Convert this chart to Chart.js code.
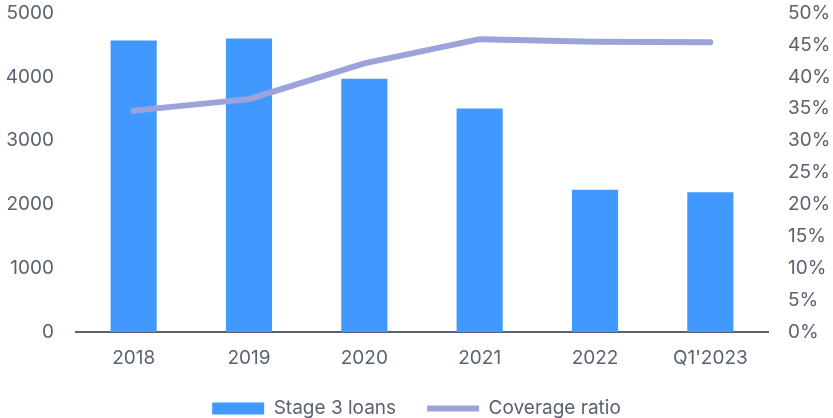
<!DOCTYPE html>
<html lang="en">
<head>
    <meta charset="UTF-8">
    <title>Stage 3 loans and coverage ratio</title>
    <style>
        body {
            margin: 0;
            padding: 0;
            background: #ffffff;
            overflow: hidden;
        }
        canvas {
            display: block;
        }
    </style>
</head>
<body>
    <canvas id="loans-chart" width="833" height="418"></canvas>

    <script src="https://cdn.jsdelivr.net/npm/chart.js"></script>
    <script>
        // chart data
        const periods = ['2018', '2019', '2020', '2021', '2022', "Q1'2023"];
        const stage3Loans = [4570, 4600, 3970, 3505, 2230, 2190];
        const coverageRatio = [34.7, 36.5, 42.1, 45.9, 45.5, 45.4];
        const leftTicks = [0, 1000, 2000, 3000, 4000, 5000];
        const rightTicks = [0, 5, 10, 15, 20, 25, 30, 35, 40, 45, 50];

        const textColor = '#5a6272';
        const font = { family: 'Inter', size: 19 };

        // fix the side axes so the plot area sits where it does in the original
        function sideAxisFit(width) {
            return (axis) => {
                axis.width = width;
                axis.paddingTop = 13;
                axis.paddingBottom = 0;
            };
        }

        const ctx = document.getElementById('loans-chart').getContext('2d');
        new Chart(ctx, {
            type: 'bar',
            data: {
                labels: periods,
                datasets: [{
                    label: 'Stage 3 loans',
                    data: stage3Loans,
                    backgroundColor: '#4199ff',
                    borderWidth: 0,
                    barPercentage: 0.4,
                    categoryPercentage: 1.0,
                    yAxisID: 'y',
                    order: 2
                }, {
                    type: 'line',
                    label: 'Coverage ratio',
                    data: coverageRatio,
                    borderColor: '#9ca3db',
                    backgroundColor: '#9ca3db',
                    borderWidth: 6,
                    borderCapStyle: 'round',
                    borderJoinStyle: 'round',
                    pointRadius: 0,
                    tension: 0,
                    yAxisID: 'y1',
                    order: 1
                }]
            },
            options: {
                responsive: false,
                animation: false,
                layout: {
                    padding: { top: 0, left: 0, right: 0, bottom: -10 }
                },
                plugins: {
                    tooltip: { enabled: false },
                    legend: {
                        position: 'bottom',
                        labels: {
                            color: textColor,
                            font: font,
                            usePointStyle: true,
                            pointStyleWidth: 52,
                            boxHeight: 12,
                            padding: 31,
                            sort: (a, b) => a.datasetIndex - b.datasetIndex,
                            generateLabels: (chart) => {
                                const items = Chart.defaults.plugins.legend.labels.generateLabels(chart);
                                items.forEach(item => {
                                    item.pointStyle = item.datasetIndex === 0 ? 'rect' : 'line';
                                });
                                return items;
                            }
                        }
                    }
                },
                scales: {
                    x: {
                        offset: true,
                        afterFit: (axis) => {
                            axis.height = 36;
                        },
                        grid: { display: false, drawTicks: false },
                        border: { display: true, color: '#5a6272', width: 2 },
                        ticks: { color: textColor, font: font, padding: 15 }
                    },
                    y: {
                        position: 'left',
                        min: 0,
                        max: 5000,
                        afterBuildTicks: (axis) => {
                            axis.ticks = leftTicks.map(v => ({ value: v }));
                        },
                        afterFit: sideAxisFit(76),
                        grid: { display: false, drawTicks: false },
                        border: { display: false },
                        ticks: {
                            color: textColor,
                            font: font,
                            padding: 22,
                            callback: (value) => String(value)
                        }
                    },
                    y1: {
                        position: 'right',
                        min: 0,
                        max: 50,
                        afterBuildTicks: (axis) => {
                            axis.ticks = rightTicks.map(v => ({ value: v }));
                        },
                        afterFit: sideAxisFit(65),
                        grid: { display: false, drawTicks: false },
                        border: { display: false },
                        ticks: {
                            color: textColor,
                            font: font,
                            padding: 20,
                            callback: (value) => value + '%'
                        }
                    }
                }
            }
        });
    </script>
</body>
</html>
